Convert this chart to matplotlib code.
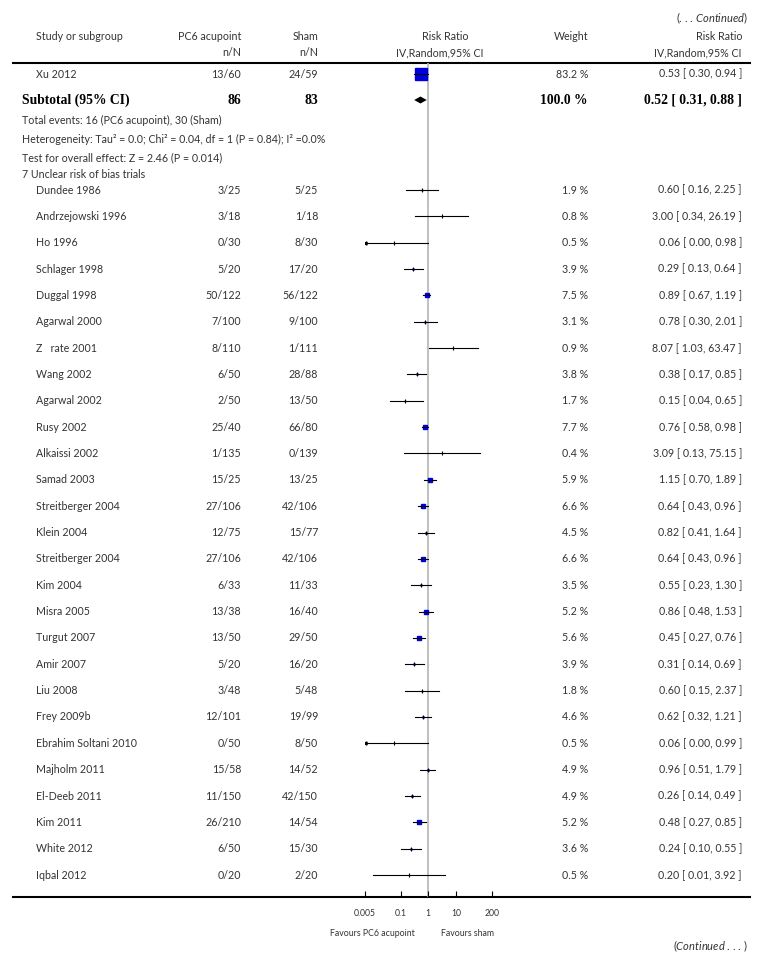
import numpy as np
import matplotlib
matplotlib.use("Agg")
import matplotlib.pyplot as plt

plt.rcParams['font.family'] = ['Lato', 'DejaVu Sans']
plt.rcParams['mathtext.fontset'] = 'custom'
plt.rcParams['mathtext.rm'] = 'Lato'
plt.rcParams['mathtext.it'] = 'Lato:italic'

# first group (continued)
top_study = "Xu 2012"
top_pc6 = "13/60"
top_sham = "24/59"
top_weight = 83.2
top_rr, top_lo, top_hi = 0.53, 0.30, 0.94
sub_rr, sub_lo, sub_hi = 0.52, 0.31, 0.88

# 7 unclear risk of bias trials
studies = ["Dundee 1986", "Andrzejowski 1996", "Ho 1996", "Schlager 1998", "Duggal 1998",
           "Agarwal 2000", "Z   rate 2001", "Wang 2002", "Agarwal 2002", "Rusy 2002",
           "Alkaissi 2002", "Samad 2003", "Streitberger 2004", "Klein 2004", "Streitberger 2004",
           "Kim 2004", "Misra 2005", "Turgut 2007", "Amir 2007", "Liu 2008", "Frey 2009b",
           "Ebrahim Soltani 2010", "Majholm 2011", "El-Deeb 2011", "Kim 2011", "White 2012",
           "Iqbal 2012"]
pc6 = ["3/25", "3/18", "0/30", "5/20", "50/122", "7/100", "8/110", "6/50", "2/50", "25/40",
       "1/135", "15/25", "27/106", "12/75", "27/106", "6/33", "13/38", "13/50", "5/20", "3/48",
       "12/101", "0/50", "15/58", "11/150", "26/210", "6/50", "0/20"]
sham = ["5/25", "1/18", "8/30", "17/20", "56/122", "9/100", "1/111", "28/88", "13/50", "66/80",
        "0/139", "13/25", "42/106", "15/77", "42/106", "11/33", "16/40", "29/50", "16/20", "5/48",
        "19/99", "8/50", "14/52", "42/150", "14/54", "15/30", "2/20"]
weights = [1.9, 0.8, 0.5, 3.9, 7.5, 3.1, 0.9, 3.8, 1.7, 7.7, 0.4, 5.9, 6.6, 4.5, 6.6, 3.5,
           5.2, 5.6, 3.9, 1.8, 4.6, 0.5, 4.9, 4.9, 5.2, 3.6, 0.5]
rr = [0.60, 3.00, 0.06, 0.29, 0.89, 0.78, 8.07, 0.38, 0.15, 0.76, 3.09, 1.15, 0.64, 0.82, 0.64,
      0.55, 0.86, 0.45, 0.31, 0.60, 0.62, 0.06, 0.96, 0.26, 0.48, 0.24, 0.20]
lo = [0.16, 0.34, 0.00, 0.13, 0.67, 0.30, 1.03, 0.17, 0.04, 0.58, 0.13, 0.70, 0.43, 0.41, 0.43,
      0.23, 0.48, 0.27, 0.14, 0.15, 0.32, 0.00, 0.51, 0.14, 0.27, 0.10, 0.01]
hi = [2.25, 26.19, 0.98, 0.64, 1.19, 2.01, 63.47, 0.85, 0.65, 0.98, 75.15, 1.89, 0.96, 1.64, 0.96,
      1.30, 1.53, 0.76, 0.69, 2.37, 1.21, 0.99, 1.79, 0.49, 0.85, 0.55, 3.92]

xticks = [0.005, 0.1, 1, 10, 200]
xtick_labels = ["0.005", "0.1", "1", "10", "200"]

W, H = 764, 968
fig = plt.figure(figsize=(W / 100, H / 100), dpi=100)
ax0 = fig.add_axes([0, 0, 1, 1])
ax0.set_xlim(0, W)
ax0.set_ylim(H, 0)
ax0.axis('off')

TC = '#333333'
fs = 7.7
x_name, x_pc6, x_sham, x_w, x_ci = 36, 241, 318, 588, 742

# header
ax0.text(748, 18, r'(. . . $\mathit{Continued}$)', ha='right', va='center', fontsize=8, color=TC)
ax0.text(x_name, 36, "Study or subgroup", ha='left', va='center', fontsize=fs, color=TC)
ax0.text(x_pc6, 36, "PC6 acupoint", ha='right', va='center', fontsize=fs, color=TC)
ax0.text(x_sham, 36, "Sham", ha='right', va='center', fontsize=fs, color=TC)
ax0.text(445, 36, "Risk Ratio", ha='center', va='center', fontsize=fs, color=TC)
ax0.text(x_w, 36, "Weight", ha='right', va='center', fontsize=fs, color=TC)
ax0.text(x_ci, 36, "Risk Ratio", ha='right', va='center', fontsize=fs, color=TC)
ax0.text(x_pc6, 53, "n/N", ha='right', va='center', fontsize=fs, color=TC)
ax0.text(x_sham, 53, "n/N", ha='right', va='center', fontsize=fs, color=TC)
ax0.text(440, 53, "IV,Random,95% CI", ha='center', va='center', fontsize=fs, color=TC)
ax0.text(x_ci, 53, "IV,Random,95% CI", ha='right', va='center', fontsize=fs, color=TC)
ax0.plot([13, 750], [63, 63], color='black', lw=1.5)
ax0.plot([13, 750], [897, 897], color='black', lw=1.5)

# forest panel
ax = fig.add_axes([364.6 / W, (H - 897) / H, (492.0 - 364.6) / W, (897 - 63) / H])
ax.set_xscale('log')
ax.set_xlim(0.005, 200)
ax.set_ylim(897, 63)
ax.patch.set_visible(False)
for s in ax.spines.values():
    s.set_visible(False)
ax.set_xticks(xticks)
ax.set_xticklabels(xtick_labels)
ax.minorticks_off()
ax.tick_params(axis='x', direction='in', length=4, width=0.8, pad=9, labelsize=6.2, labelcolor=TC)
ax.set_yticks([])
ax.axvline(1, color='#b5b5b5', lw=1.2, zorder=1)


def msize(w):
    # small boxes end up hidden under the CI line, as in the original
    if w < 5:
        px = 0.6 * np.sqrt(w)
    else:
        px = 1.25 * np.sqrt(w) + 0.3
    return px * 0.72


def row(y, name, a, b, w, r, l, h):
    ax0.text(x_name, y, name, ha='left', va='center', fontsize=fs, color=TC)
    ax0.text(x_pc6, y, a, ha='right', va='center', fontsize=fs, color=TC)
    ax0.text(x_sham, y, b, ha='right', va='center', fontsize=fs, color=TC)
    ax0.text(x_w, y, "%.1f %%" % w, ha='right', va='center', fontsize=fs, color=TC)
    ax0.text(x_ci, y, "%.2f [ %.2f, %.2f ]" % (r, l, h), ha='right', va='center', fontsize=fs, color=TC)
    ax.plot([r], [y], marker='s', ms=msize(w), color='#0000dd', mec='#0000dd', zorder=2)
    lc = max(l, 0.005)
    ax.plot([lc, min(h, 200)], [y, y], color='black', lw=0.8, zorder=3)
    if w < 5:
        ax.plot([r], [y], marker='|', ms=2.5, mew=0.8, color='black', zorder=3)
    if l < 0.005:
        ax.plot([0.0052], [y], marker='<', ms=2.2, color='black', zorder=3)


row(74, top_study, top_pc6, top_sham, top_weight, top_rr, top_lo, top_hi)

# subtotal
bf = dict(family='Liberation Serif', fontweight='bold', fontsize=9.8, color='black')
ax0.text(22, 100, "Subtotal (95% CI)", ha='left', va='center', **bf)
ax0.text(x_pc6, 100, "86", ha='right', va='center', **bf)
ax0.text(x_sham, 100, "83", ha='right', va='center', **bf)
ax0.text(x_w, 100, "100.0 %", ha='right', va='center', **bf)
ax0.text(x_ci, 100, "0.52 [ 0.31, 0.88 ]", ha='right', va='center', **bf)
ax.fill([sub_lo, sub_rr, sub_hi, sub_rr], [100, 96.5, 100, 103.5], color='black', lw=0, zorder=3)

ax0.text(22, 120, "Total events: 16 (PC6 acupoint), 30 (Sham)", ha='left', va='center', fontsize=fs, color=TC)
ax0.text(22, 139, "Heterogeneity: Tau\u00b2 = 0.0; Chi\u00b2 = 0.04, df = 1 (P = 0.84); I\u00b2 =0.0%",
         ha='left', va='center', fontsize=fs, color=TC)
ax0.text(22, 158, "Test for overall effect: Z = 2.46 (P = 0.014)", ha='left', va='center', fontsize=fs, color=TC)
ax0.text(22, 175, "7 Unclear risk of bias trials", ha='left', va='center', fontsize=fs, color=TC)

for i in range(len(studies)):
    row(190 + i * 26.35, studies[i], pc6[i], sham[i], weights[i], rr[i], lo[i], hi[i])

ax0.text(415, 933, "Favours PC6 acupoint", ha='right', va='center', fontsize=6.3, color=TC)
ax0.text(441, 933, "Favours sham", ha='left', va='center', fontsize=6.3, color=TC)
ax0.text(748, 946, r'($\mathit{Continued}$ . . . )', ha='right', va='center', fontsize=8, color=TC)

fig.savefig("out.png", dpi=100)
